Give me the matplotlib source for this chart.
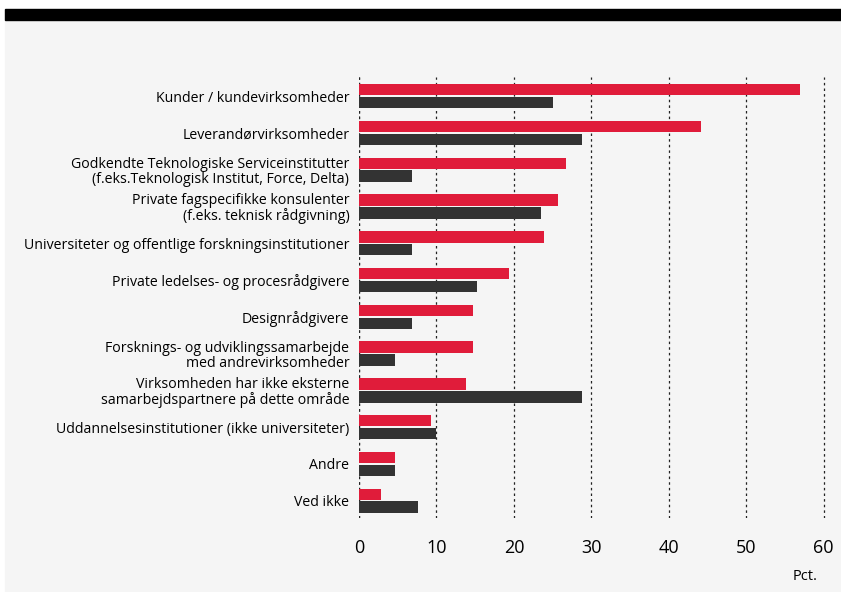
"""Horizontal grouped bars: external partners by type (pct.)."""

import matplotlib

matplotlib.use("Agg")
import matplotlib.pyplot as plt
import numpy as np
from matplotlib.patches import Rectangle

categories = [
    "Kunder / kundevirksomheder",
    "Leverandørvirksomheder",
    "Godkendte Teknologiske Serviceinstitutter\n(f.eks.Teknologisk Institut, Force, Delta)",
    "Private fagspecifikke konsulenter\n(f.eks. teknisk rådgivning)",
    "Universiteter og offentlige forskningsinstitutioner",
    "Private ledelses- og procesrådgivere",
    "Designrådgivere",
    "Forsknings- og udviklingssamarbejde\nmed andrevirksomheder",
    "Virksomheden har ikke eksterne\nsamarbejdspartnere på dette område",
    "Uddannelsesinstitutioner (ikke universiteter)",
    "Andre",
    "Ved ikke",
]
red_values = [56.9, 44.1, 26.7, 25.7, 23.9, 19.4, 14.7, 14.7, 13.8, 9.3, 4.6, 2.8]
dark_values = [25.0, 28.8, 6.8, 23.5, 6.8, 15.2, 6.8, 4.6, 28.8, 10.0, 4.6, 7.6]
xticks = [0, 10, 20, 30, 40, 50, 60]

RED = "#e01c3a"
DARK = "#333333"
BG = "#f5f5f5"

plt.rcParams["font.family"] = ["Open Sans", "DejaVu Sans"]

fig = plt.figure(figsize=(8.41, 5.92), dpi=100, facecolor="white")
# grey panel and black header strip, behind the axes
fig.add_artist(Rectangle((5 / 841, 0), 836 / 841, 572 / 592,
                         transform=fig.transFigure, color=BG, zorder=-2))
fig.add_artist(Rectangle((5 / 841, 572 / 592), 836 / 841, 11 / 592,
                         transform=fig.transFigure, color="black", zorder=-2))

xmax = 60.5
ax = fig.add_axes([359 / 841, 1 - 518 / 592,
                   (823.7 - 359) * xmax / 60 / 841, (518 - 77) / 592])
ax.set_zorder(1)
ax.set_facecolor(BG)

y = np.arange(len(categories))
h = 0.31
ax.barh(y - 0.175, red_values, height=h, color=RED, zorder=2)
ax.barh(y + 0.175, dark_values, height=h, color=DARK, zorder=2)

ax.set_xlim(0, xmax)
ax.set_ylim(len(categories) - 0.53, -0.52)
ax.set_xticks(xticks)
ax.set_yticks(y)
ax.set_yticklabels(categories, fontsize=10.2, linespacing=1.0)
ax.tick_params(axis="y", length=0, pad=7)
ax.tick_params(axis="x", length=0, pad=15, labelsize=13)
for lbl in ax.get_yticklabels():
    lbl.set_multialignment("right")

ax.grid(axis="x", color="#222222", linestyle=(0, (2, 2.5)), linewidth=0.9, zorder=1)
ax.axvline(0, color="#222222", linestyle=(0, (2, 2.5)), linewidth=0.9, zorder=1)
for s in ax.spines.values():
    s.set_visible(False)

fig.text(818 / 841, 1 - 576 / 592, "Pct.", ha="right", va="center", fontsize=10.5)

fig.savefig("out.png", dpi=100, facecolor=fig.get_facecolor())
